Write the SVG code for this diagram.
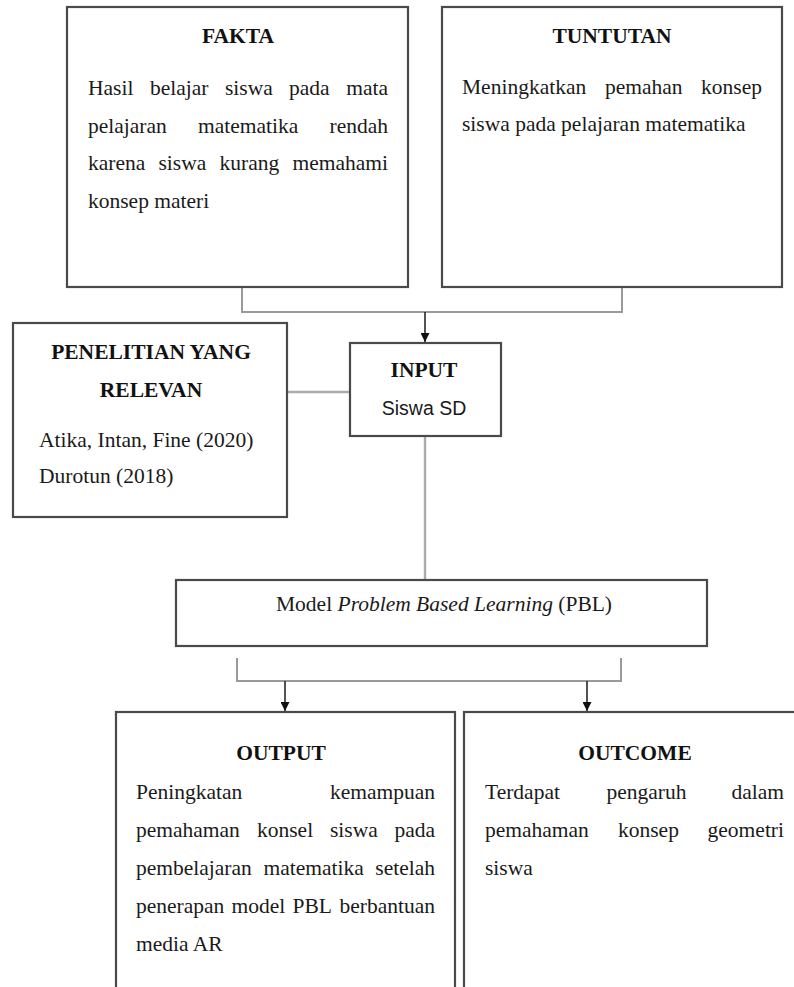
<svg xmlns="http://www.w3.org/2000/svg" width="794" height="987" viewBox="0 0 794 987">
<style>
  .box { fill: #ffffff; stroke: #4a4a4a; stroke-width: 2.2; }
  .t { font-family: "Liberation Serif", "Times New Roman", serif; font-size: 21.5px; fill: #1a1a1a; }
  .h { font-family: "Liberation Serif", "Times New Roman", serif; font-size: 21.5px; font-weight: bold; fill: #111111; text-anchor: middle; }
  .s { font-family: "Liberation Sans", Arial, sans-serif; font-size: 19.5px; fill: #1a1a1a; text-anchor: middle; }
  .e { text-anchor: end; }
  .grey { fill: none; stroke: #9a9a9a; stroke-width: 2; }
  .light { fill: none; stroke: #ababab; stroke-width: 2.4; }
  .arrow { fill: none; stroke: #1a1a1a; stroke-width: 1.5; marker-end: url(#arr); }
</style>
<defs>
  <marker id="arr" viewBox="0 0 10 10" refX="10" refY="5" markerWidth="11" markerHeight="9" markerUnits="userSpaceOnUse" orient="auto">
    <path d="M0,0 L10,5 L0,10 z" fill="#111111"/>
  </marker>
</defs>
<rect width="794" height="987" fill="#ffffff"/>

<g id="connectors">
  <path class="grey" d="M242,287 V312 H622 V287"/>
  <path class="arrow" d="M425,312 V342"/>
  <path class="light" d="M287,392 H350"/>
  <path class="light" d="M425,436 V580"/>
  <path class="grey" d="M237,658 V681 H621 V658"/>
  <path class="arrow" d="M285,681 V711"/>
  <path class="arrow" d="M587,681 V711"/>
</g>

<g id="fakta">
  <rect class="box" x="67" y="7" width="341" height="280"/>
  <text class="h" x="238" y="43">FAKTA</text>
  <text class="t" y="95"><tspan x="88">Hasil</tspan><tspan x="150">belajar</tspan><tspan x="225">siswa</tspan><tspan x="289">pada</tspan></text>
  <text class="t e" x="388" y="95">mata</text>
  <text class="t" y="133"><tspan x="88">pelajaran</tspan><tspan x="198">matematika</tspan></text>
  <text class="t e" x="388" y="133">rendah</text>
  <text class="t" y="170"><tspan x="88">karena</tspan><tspan x="158.5">siswa</tspan><tspan x="219.5">kurang</tspan></text>
  <text class="t e" x="388" y="170">memahami</text>
  <text class="t" x="88" y="208">konsep materi</text>
</g>

<g id="tuntutan">
  <rect class="box" x="442" y="7" width="340" height="280"/>
  <text class="h" x="612" y="43">TUNTUTAN</text>
  <text class="t" y="94"><tspan x="462">Meningkatkan</tspan><tspan x="605">pemahan</tspan></text>
  <text class="t e" x="762" y="94">konsep</text>
  <text class="t" x="462" y="131">siswa pada pelajaran matematika</text>
</g>

<g id="penelitian">
  <rect class="box" x="13" y="323" width="274" height="194"/>
  <text class="h" x="151" y="359">PENELITIAN YANG</text>
  <text class="h" x="151" y="397">RELEVAN</text>
  <text class="t" x="39" y="447">Atika, Intan, Fine (2020)</text>
  <text class="t" x="39" y="483">Durotun (2018)</text>
</g>

<g id="input">
  <rect class="box" x="350" y="343" width="151" height="93"/>
  <text class="h" x="424" y="377">INPUT</text>
  <text class="s" x="424" y="415">Siswa SD</text>
</g>

<g id="pbl">
  <rect class="box" x="176" y="580" width="531" height="66"/>
  <text class="t" x="444" y="611" text-anchor="middle">Model <tspan font-style="italic">Problem Based Learning</tspan> (PBL)</text>
</g>

<g id="output">
  <rect class="box" x="116" y="712" width="339" height="300"/>
  <text class="h" x="281" y="760">OUTPUT</text>
  <text class="t" x="136" y="799">Peningkatan</text>
  <text class="t e" x="435" y="799">kemampuan</text>
  <text class="t" y="837"><tspan x="136">pemahaman</tspan><tspan x="257">konsel</tspan><tspan x="330">siswa</tspan></text>
  <text class="t e" x="435" y="837">pada</text>
  <text class="t" y="875"><tspan x="136">pembelajaran</tspan><tspan x="263.5">matematika</tspan></text>
  <text class="t e" x="435" y="875">setelah</text>
  <text class="t" y="913"><tspan x="136">penerapan</tspan><tspan x="231.5">model</tspan><tspan x="292.5">PBL</tspan></text>
  <text class="t e" x="435" y="913">berbantuan</text>
  <text class="t" x="136" y="951">media AR</text>
</g>

<g id="outcome">
  <rect class="box" x="464" y="712" width="340" height="300"/>
  <text class="h" x="635" y="760">OUTCOME</text>
  <text class="t" y="799"><tspan x="485">Terdapat</tspan><tspan x="606.5">pengaruh</tspan></text>
  <text class="t e" x="784" y="799">dalam</text>
  <text class="t" y="837"><tspan x="485">pemahaman</tspan><tspan x="618">konsep</tspan></text>
  <text class="t e" x="784" y="837">geometri</text>
  <text class="t" x="485" y="875">siswa</text>
</g>
</svg>
